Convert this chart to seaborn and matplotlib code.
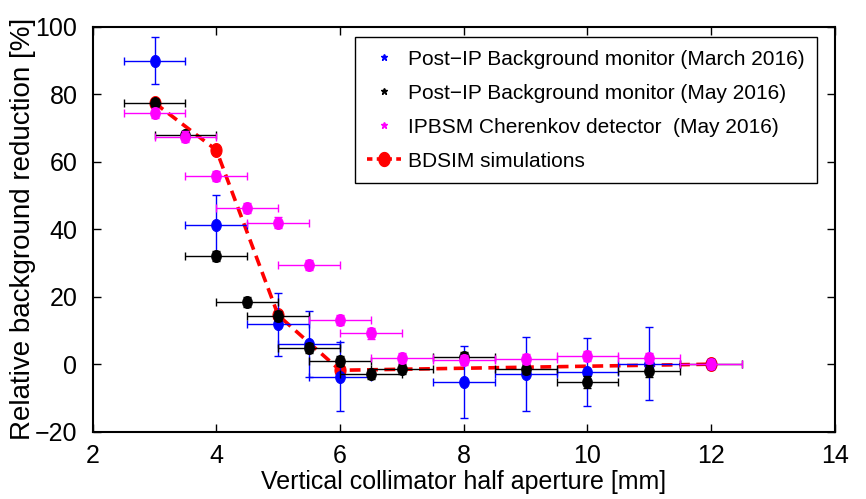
import matplotlib
matplotlib.use("Agg")
import numpy as np
import matplotlib.pyplot as plt
from matplotlib.lines import Line2D
from matplotlib.path import Path
import seaborn as sns

# Post-IP background monitor, March 2016
x_march = [3, 4, 5, 5.5, 6, 8, 9, 10, 11]
y_march = [90, 41.3, 11.8, 6.1, -3.7, -5.3, -3.0, -2.2, 0.2]
yerr_march = [7, 9, 9.4, 9.8, 10.3, 10.7, 11, 10.1, 10.7]

# Post-IP background monitor, May 2016
x_may = [3, 3.5, 4, 4.5, 5, 5.5, 6, 6.5, 7, 8, 9, 10, 11, 12]
y_may = [77.5, 68, 32.2, 18.4, 14.3, 4.9, 0.9, -3.0, -1.3, 2.0, -1.5, -5.3, -2.1, 0]
yerr_may = [1, 1, 1.5, 1.5, 1.5, 1.5, 1.5, 1.5, 1.5, 1.5, 1.5, 1.8, 1.8, 1.5]

# IPBSM Cherenkov detector, May 2016
x_ipbsm = [3, 3.5, 4, 4.5, 5, 5.5, 6, 6.5, 7, 8, 9, 10, 11, 12]
y_ipbsm = [74.4, 67.5, 55.9, 46.3, 42.0, 29.4, 13.2, 9.1, 1.9, 1.2, 1.5, 2.4, 1.9, 0.1]
yerr_ipbsm = [1.5] * len(x_ipbsm)

# BDSIM simulations
x_sim = [3, 4, 5, 6, 12]
y_sim = [77.5, 63.5, 14.5, -1.8, 0]

half_bin = 0.5  # horizontal error bar (half width of aperture step)

labels = [
    "Post\u2212IP Background monitor (March 2016)",
    "Post\u2212IP Background monitor (May 2016)",
    "IPBSM Cherenkov detector  (May 2016)",
    "BDSIM simulations",
]

sns.set_style("ticks")
plt.rcParams["font.family"] = ["Liberation Sans", "DejaVu Sans"]
plt.rcParams["xtick.direction"] = "in"
plt.rcParams["ytick.direction"] = "in"
for key in ["text.color", "axes.labelcolor", "xtick.color", "ytick.color"]:
    plt.rcParams[key] = "black"

# slightly oval markers, like the squeezed original
t = np.linspace(0, 2 * np.pi, 61)
oval = Path(np.column_stack([0.8 * np.cos(t), np.sin(t)]), closed=True)

fig = plt.figure(figsize=(8.66, 4.99), dpi=100)
ax = fig.add_axes([0.107, 0.135, 0.857, 0.811])

# simulation line first (markers sit underneath the data)
sns.lineplot(x=x_sim, y=y_sim, color="red", linewidth=2.6, marker=oval,
             markersize=10, markeredgecolor="red", ax=ax, zorder=1)
ax.lines[-1].set_linestyle((0, (3, 1.8)))

series = [
    (x_march, y_march, yerr_march, "blue"),
    (x_may, y_may, yerr_may, "black"),
    (x_ipbsm, y_ipbsm, yerr_ipbsm, "magenta"),
]
for i, (xs, ys, es, c) in enumerate(series):
    ax.errorbar(xs, ys, xerr=half_bin, yerr=es, fmt="none", ecolor=c,
                elinewidth=1.0, capsize=3, capthick=1.0, zorder=2 + i)
    sns.scatterplot(x=xs, y=ys, color=c, edgecolor=c, s=75, marker=oval, ax=ax,
                    zorder=2.5 + i, legend=False)

ax.set_xlim(2, 14)
ax.set_ylim(-20, 100)
ax.set_xticks([2, 4, 6, 8, 10, 12, 14])
ax.set_yticks([-20, 0, 20, 40, 60, 80, 100])
ax.tick_params(axis="both", labelsize=18, length=6, width=1, top=True, right=True)
ax.tick_params(axis="x", pad=9)
ax.tick_params(axis="y", pad=11)
for s in ax.spines.values():
    s.set_visible(True)
    s.set_linewidth(1.5)
    s.set_color("black")

ax.set_xlabel("Vertical collimator half aperture [mm]", fontsize=18, labelpad=1)
ax.set_ylabel("Relative background reduction [%]", fontsize=20)
ax.yaxis.set_label_coords(-0.076, 0.5)

handles = [
    Line2D([], [], linestyle="none", marker="*", color="blue", markersize=5),
    Line2D([], [], linestyle="none", marker="*", color="black", markersize=5),
    Line2D([], [], linestyle="none", marker="*", color="magenta", markersize=5),
    Line2D([], [], color="red", linewidth=2.6, linestyle=(0, (1.5, 1.2)),
           marker=oval, markersize=10),
]
leg = ax.legend(handles, labels, loc="upper right", bbox_to_anchor=(0.976, 0.975),
                borderaxespad=0, fontsize=15, fancybox=False, framealpha=1,
                edgecolor="black", handlelength=1.6, handletextpad=0.35,
                labelspacing=0.72, borderpad=0.6)
leg.get_frame().set_linewidth(1.0)

fig.savefig("out.png", dpi=100)
